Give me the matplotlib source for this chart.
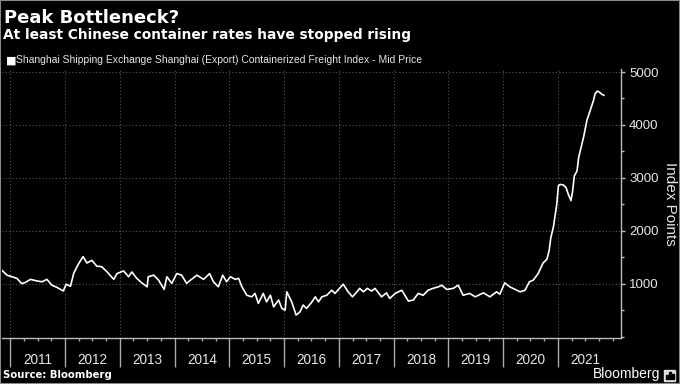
import matplotlib.pyplot as plt
import matplotlib.transforms as mtransforms
from matplotlib.patches import Rectangle
from matplotlib.ticker import FixedLocator, MultipleLocator

# SCFI mid price (decimal year, index points)
dates = [2010.85, 2010.94, 2011.03, 2011.12, 2011.21, 2011.27, 2011.37, 2011.49, 2011.58, 2011.67,
         2011.76, 2011.85, 2011.97, 2012.02, 2012.10, 2012.16, 2012.25, 2012.33, 2012.40, 2012.49,
         2012.58, 2012.67, 2012.77, 2012.89, 2012.95, 2013.07, 2013.16, 2013.22, 2013.31, 2013.40,
         2013.50, 2013.52, 2013.62, 2013.71, 2013.81, 2013.86, 2013.95, 2014.04, 2014.13, 2014.22,
         2014.29, 2014.41, 2014.53, 2014.64, 2014.71, 2014.80, 2014.88, 2014.95, 2015.02, 2015.11,
         2015.17, 2015.23, 2015.32, 2015.41, 2015.47, 2015.53, 2015.62, 2015.68, 2015.75, 2015.81,
         2015.90, 2015.96, 2016.02, 2016.05, 2016.14, 2016.22, 2016.29, 2016.35, 2016.41, 2016.51,
         2016.57, 2016.63, 2016.69, 2016.78, 2016.87, 2016.93, 2017.08, 2017.17, 2017.25, 2017.33,
         2017.38, 2017.45, 2017.52, 2017.60, 2017.66, 2017.78, 2017.87, 2017.93, 2018.03, 2018.15,
         2018.27, 2018.36, 2018.45, 2018.54, 2018.63, 2018.72, 2018.82, 2018.88, 2018.97, 2019.09,
         2019.18, 2019.27, 2019.39, 2019.49, 2019.64, 2019.76, 2019.88, 2019.94, 2020.03, 2020.12,
         2020.22, 2020.31, 2020.40, 2020.48, 2020.55, 2020.64, 2020.73, 2020.80, 2020.84, 2020.87,
         2020.92, 2020.98, 2021.01, 2021.04, 2021.10, 2021.15, 2021.19, 2021.24, 2021.27, 2021.30,
         2021.35, 2021.38, 2021.44, 2021.47, 2021.53, 2021.59, 2021.65, 2021.68, 2021.72, 2021.76,
         2021.80, 2021.84]
scfi = [1250, 1160, 1130, 1100, 1000, 1020, 1080, 1050, 1035, 1080,
        970, 930, 860, 990, 950, 1200, 1380, 1510, 1390, 1440,
        1330, 1320, 1220, 1080, 1190, 1240, 1130, 1220, 1100, 1015,
        940, 1130, 1160, 1065, 890, 1130, 1005, 1190, 1160, 1005,
        1065, 1160, 1080, 1190, 1035, 940, 1160, 1035, 1130, 1080,
        1100, 940, 780, 750, 815, 625, 815, 655, 780, 560,
        690, 530, 500, 845, 655, 405, 465, 595, 530, 655,
        750, 655, 750, 780, 875, 815, 990, 845, 750, 845,
        910, 845, 910, 860, 910, 750, 825, 720, 815, 875,
        670, 690, 815, 780, 875, 910, 940, 970, 890, 910,
        970, 780, 815, 750, 825, 750, 845, 800, 1015, 940,
        890, 845, 875, 1035, 1065, 1190, 1390, 1460, 1620, 1860,
        2080, 2500, 2850, 2875, 2865, 2815, 2690, 2570, 2750, 3035,
        3130, 3385, 3640, 3770, 4085, 4275, 4460, 4590, 4640, 4620,
        4580, 4560]

years = list(range(2011, 2022))
yticks = [1000, 2000, 3000, 4000, 5000]

sans = ['Liberation Sans', 'DejaVu Sans']
fg = '#e6e6e6'

fig = plt.figure(figsize=(6.8, 3.84), dpi=100, facecolor='black')
ax = fig.add_axes([0.003, 0.1198, 0.91, 0.7005])
ax.set_facecolor('black')

ax.plot(dates, scfi, color='white', linewidth=1.2)

ax.set_xlim(2010.85, 2022.15)
ax.set_ylim(-28, 5057)

# right value axis
ax.yaxis.tick_right()
ax.set_yticks(yticks)
ax.set_yticklabels([str(v) for v in yticks], fontfamily=sans, fontsize=9.5, color=fg)
ax.yaxis.set_minor_locator(MultipleLocator(500))
ax.tick_params(axis='y', which='major', direction='out', length=3, width=1, color='#bbbbbb', pad=3)
ax.tick_params(axis='y', which='minor', direction='out', length=2, width=1, color='#bbbbbb')

# time axis: long year separators, quarterly minor ticks, labels mid-year
ax.xaxis.set_major_locator(FixedLocator(years))
ax.xaxis.set_minor_locator(MultipleLocator(0.25))
ax.set_xticklabels([])
ax.tick_params(axis='x', which='major', direction='out', length=21, width=1, color='#aaaaaa')
ax.tick_params(axis='x', which='minor', direction='out', length=2.5, width=1, color='#aaaaaa')
trans = mtransforms.blended_transform_factory(ax.transData, ax.transAxes)
for y in years:
    ax.text(y + 0.5, -0.08, str(y), transform=trans, ha='center', va='center',
            fontfamily=sans, fontsize=9.8, color=fg)

ax.grid(True, which='major', color='#555555', linestyle=(0, (1, 2)), linewidth=0.8)

for s in ['top', 'left']:
    ax.spines[s].set_visible(False)
for s in ['right', 'bottom']:
    ax.spines[s].set_color('#bbbbbb')
    ax.spines[s].set_linewidth(1)

fig.text(670 / 680, 1 - 204 / 384, 'Index Points', rotation=270, ha='center', va='center',
         fontfamily=sans, fontsize=11, color=fg)

# titles
fig.text(4 / 680, 1 - 22.7 / 384, 'Peak Bottleneck?', fontsize=13, fontweight='bold',
         color='white', va='baseline', fontfamily='DejaVu Sans')
fig.text(3 / 680, 1 - 39.3 / 384, 'At least Chinese container rates have stopped rising',
         fontsize=9.9, fontweight='bold', color='white', va='baseline', fontfamily='DejaVu Sans')
fig.text(6 / 680, 1 - 63.3 / 384, '\u25a0', fontsize=8, color='white', va='baseline',
         fontfamily='DejaVu Sans')
fig.text(16 / 680, 1 - 63.3 / 384,
         'Shanghai Shipping Exchange Shanghai (Export) Containerized Freight Index - Mid Price',
         fontsize=7.5, color=fg, va='baseline', fontfamily=sans)

# footer
fig.text(3 / 680, 1 - 378 / 384, 'Source: Bloomberg', fontsize=7.3, fontweight='bold',
         color='white', va='baseline', fontfamily='DejaVu Sans')
fig.text(660 / 680, 1 - 378 / 384, 'Bloomberg', fontsize=10, color='white', va='baseline',
         ha='right', fontfamily=sans)
fig.patches.append(Rectangle((664 / 680, 1 - 381 / 384), 11 / 680, 11 / 384, color='#dddddd',
                             transform=fig.transFigure))
for i, h in enumerate([4, 7, 5]):
    fig.patches.append(Rectangle(((666 + i * 3) / 680, 1 - 379 / 384), 1.6 / 680, h / 384,
                                 color='black', transform=fig.transFigure))

fig.patches.append(Rectangle((0, 0), 1, 1, fill=False, edgecolor='#8a8a8a', linewidth=1.5,
                             transform=fig.transFigure))

fig.savefig('out.png', dpi=100, facecolor='black')
